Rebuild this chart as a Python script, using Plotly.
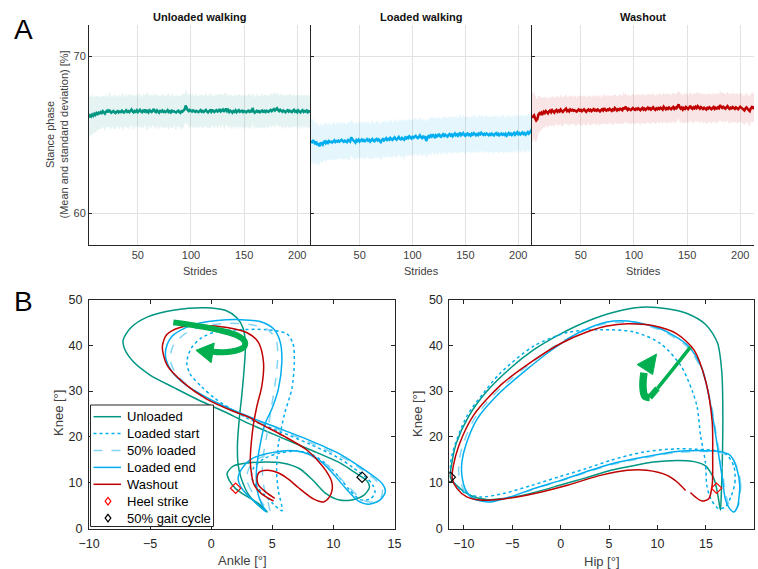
import plotly.graph_objects as go

W, H = 758, 569

# ---------------- Panel A data (stance phase per stride) ----------------
phase_titles = ["Unloaded walking", "Loaded walking", "Washout"]
stride_ticks = [50, 100, 150, 200]
stance_ticks = [60, 70]
first_stride = 4

unloaded_mean = [
    66.12, 66.25, 66.18, 66.30, 66.22, 66.35, 66.28, 66.40, 66.33, 66.42,
    66.38, 66.46, 66.40, 66.52, 66.44, 66.36, 66.48, 66.55, 66.45, 66.60,
    66.50, 66.42, 66.47, 66.53, 66.45, 66.40, 66.48, 66.52, 66.44, 66.50,
    66.46, 66.55, 66.48, 66.43, 66.51, 66.58, 66.47, 66.52, 66.45, 66.55,
    66.62, 66.50, 66.44, 66.53, 66.48, 66.57, 66.46, 66.52, 66.60, 66.49,
    66.45, 66.55, 66.50, 66.62, 66.48, 66.53, 66.44, 66.58, 66.51, 66.47,
    66.55, 66.65, 66.50, 66.45, 66.57, 66.48, 66.42, 66.53, 66.49, 66.56,
    66.47, 66.52, 66.45, 66.50, 66.58, 66.46, 66.51, 66.44, 66.55, 66.49,
    66.52, 66.46, 66.43, 66.50, 66.55, 66.47, 66.41, 66.52, 66.48, 66.56,
    66.62, 66.88, 66.70, 66.58, 66.52, 66.60, 66.55, 66.49, 66.56, 66.51,
    66.47, 66.54, 66.50, 66.45, 66.52, 66.58, 66.48, 66.53, 66.46, 66.55,
    66.60, 66.50, 66.44, 66.52, 66.57, 66.48, 66.62, 66.51, 66.46, 66.55,
    66.58, 66.49, 66.53, 66.65, 66.50, 66.56, 66.62, 66.48, 66.55, 66.68,
    66.52, 66.60, 66.47, 66.55, 66.50, 66.42, 66.53, 66.48, 66.57, 66.45,
    66.52, 66.58, 66.47, 66.50, 66.55, 66.46, 66.53, 66.49, 66.44, 66.52,
    66.56, 66.48, 66.53, 66.45, 66.72, 66.50, 66.42, 66.48, 66.54, 66.47,
    66.52, 66.45, 66.50, 66.56, 66.48, 66.53, 66.46, 66.55, 66.50, 66.47,
    66.55, 66.60, 66.52, 66.58, 66.65, 66.56, 66.62, 66.70, 66.58, 66.52,
    66.60, 66.53, 66.48, 66.56, 66.50, 66.45, 66.53, 66.58, 66.49, 66.55,
    66.50, 66.46, 66.55, 66.60, 66.48, 66.53, 66.45, 66.57, 66.50, 66.44,
    66.52, 66.58, 66.47, 66.53, 66.49, 66.56, 66.45, 66.52, 66.50, 66.46,
]
unloaded_sd = [
    1.35, 1.28, 1.22, 1.30, 1.18, 1.12, 1.20, 1.08, 1.15, 1.05,
    0.98, 1.10, 1.02, 0.95, 1.08, 1.12, 0.96, 1.04, 0.92, 1.10,
    1.18, 1.02, 0.94, 1.06, 1.12, 0.98, 1.05, 0.90, 1.14, 1.00,
    0.96, 1.08, 1.20, 1.02, 0.94, 1.10, 0.98, 1.04, 1.16, 0.92,
    1.06, 1.00, 1.12, 0.95, 1.08, 1.02, 0.90, 1.14, 1.00, 1.06,
    0.96, 1.10, 1.04, 0.92, 1.18, 1.25, 1.06, 0.98, 1.12, 1.02,
    0.94, 1.08, 1.00, 1.15, 0.96, 1.04, 1.10, 0.92, 1.06, 1.00,
    1.12, 0.98, 1.04, 0.94, 1.08, 1.16, 1.00, 0.96, 1.10, 1.02,
    0.92, 1.06, 1.12, 0.98, 1.04, 0.95, 1.10, 1.00, 1.18, 1.06,
    0.96, 1.08, 1.02, 0.94, 1.12, 1.00, 1.06, 0.98, 1.14, 0.92,
    1.04, 1.10, 0.96, 1.02, 1.08, 0.94, 1.12, 1.00, 1.05, 0.97,
    1.10, 1.03, 0.95, 1.08, 1.14, 0.99, 1.04, 0.92, 1.07, 1.01,
    0.96, 1.12, 1.05, 0.98, 1.09, 1.02, 0.94, 1.06, 1.15, 1.00,
    0.95, 1.08, 1.03, 0.97, 1.11, 1.04, 0.93, 1.06, 1.00, 1.10,
    0.98, 1.05, 1.13, 0.96, 1.02, 1.08, 0.94, 1.10, 1.01, 0.97,
    1.06, 1.12, 0.99, 1.04, 0.93, 1.08, 1.02, 0.96, 1.11, 1.05,
    0.98, 1.07, 1.00, 1.14, 0.95, 1.03, 1.09, 0.97, 1.05, 1.01,
    0.94, 1.10, 1.04, 0.98, 1.06, 1.12, 0.96, 1.02, 1.08, 0.93,
    1.05, 1.00, 1.11, 0.97, 1.04, 1.09, 0.95, 1.02, 1.07, 0.99,
    1.12, 1.03, 0.96, 1.06, 1.01, 0.94, 1.08, 1.04, 0.98, 1.10,
    1.02, 0.95, 1.07, 1.00, 1.05, 0.97, 1.03, 1.09, 0.96, 1.04,
]
loaded_mean = [
    64.62, 64.55, 64.68, 64.50, 64.42, 64.58, 64.35, 64.47, 64.28, 64.52,
    64.45, 64.38, 64.55, 64.60, 64.48, 64.57, 64.50, 64.62, 64.55, 64.58,
    64.52, 64.60, 64.66, 64.55, 64.62, 64.58, 64.65, 64.57, 64.63, 64.70,
    64.62, 64.57, 64.64, 64.60, 64.55, 64.68, 64.62, 64.58, 64.85, 64.72,
    64.65, 64.60, 64.52, 64.68, 64.62, 64.70, 64.58, 64.65, 64.72, 64.62,
    64.68, 64.60, 64.66, 64.73, 64.64, 64.70, 64.58, 64.67, 64.74, 64.65,
    64.60, 64.70, 64.75, 64.66, 64.72, 64.62, 64.55, 64.68, 64.74, 64.65,
    64.72, 64.80, 64.68, 64.75, 64.70, 64.82, 64.74, 64.68, 64.77, 64.85,
    64.75, 64.70, 64.80, 64.88, 64.76, 64.72, 64.82, 64.78, 64.70, 64.84,
    64.78, 64.86, 64.80, 64.92, 64.84, 64.78, 64.88, 64.82, 64.90, 64.95,
    64.85, 64.80, 64.88, 64.98, 64.86, 64.80, 64.90, 64.84, 64.92, 64.62,
    64.80, 64.92, 64.86, 64.97, 64.90, 65.05, 64.92, 64.86, 64.98, 64.90,
    64.95, 65.08, 64.92, 64.88, 64.98, 65.05, 64.94, 65.02, 64.96, 64.90,
    65.00, 65.06, 64.96, 65.03, 64.92, 65.00, 65.10, 64.98, 65.04, 64.95,
    65.02, 65.15, 64.98, 65.06, 65.12, 65.00, 64.94, 65.05, 65.10, 65.00,
    65.04, 64.96, 65.08, 65.02, 65.12, 65.05, 64.98, 65.06, 65.00, 65.10,
    65.04, 65.14, 65.05, 65.00, 65.08, 65.02, 65.10, 65.05, 64.98, 65.06,
    65.00, 65.09, 65.04, 64.97, 65.06, 65.12, 65.02, 65.08, 64.98, 65.05,
    65.10, 65.02, 65.07, 65.00, 65.08, 64.95, 65.05, 65.12, 65.03, 65.09,
    65.00, 65.06, 65.14, 65.02, 65.08, 65.18, 65.05, 65.12, 65.04, 65.10,
    65.16, 65.06, 65.12, 65.02, 65.10, 65.18, 65.08, 65.15, 65.25, 65.38,
]
loaded_sd = [
    1.45, 1.38, 1.42, 1.30, 1.35, 1.26, 1.32, 1.22, 1.28, 1.18,
    1.24, 1.15, 1.20, 1.12, 1.26, 1.18, 1.10, 1.22, 1.14, 1.08,
    1.20, 1.16, 1.25, 1.10, 1.18, 1.12, 1.22, 1.06, 1.15, 1.20,
    1.10, 1.24, 1.14, 1.08, 1.18, 1.12, 1.26, 1.16, 1.10, 1.20,
    1.14, 1.08, 1.22, 1.16, 1.12, 1.18, 1.06, 1.20, 1.14, 1.10,
    1.24, 1.12, 1.16, 1.08, 1.20, 1.14, 1.10, 1.18, 1.28, 1.12,
    1.16, 1.06, 1.20, 1.12, 1.18, 1.10, 1.14, 1.22, 1.08, 1.16,
    1.12, 1.20, 1.06, 1.14, 1.18, 1.10, 1.24, 1.12, 1.08, 1.16,
    1.20, 1.14, 1.10, 1.18, 1.06, 1.22, 1.12, 1.16, 1.30, 1.14,
    1.08, 1.18, 1.12, 1.22, 1.10, 1.16, 1.06, 1.20, 1.14, 1.12,
    1.18, 1.08, 1.24, 1.14, 1.10, 1.20, 1.12, 1.16, 1.06, 1.22,
    1.14, 1.10, 1.18, 1.12, 1.26, 1.08, 1.16, 1.20, 1.10, 1.14,
    1.22, 1.12, 1.08, 1.18, 1.14, 1.10, 1.20, 1.16, 1.06, 1.24,
    1.12, 1.18, 1.10, 1.14, 1.22, 1.08, 1.16, 1.12, 1.20, 1.10,
    1.14, 1.26, 1.12, 1.08, 1.18, 1.14, 1.22, 1.10, 1.16, 1.12,
    1.06, 1.20, 1.14, 1.18, 1.10, 1.24, 1.12, 1.08, 1.16, 1.20,
    1.12, 1.10, 1.18, 1.14, 1.06, 1.22, 1.16, 1.12, 1.20, 1.08,
    1.14, 1.18, 1.10, 1.24, 1.12, 1.16, 1.08, 1.20, 1.14, 1.10,
    1.18, 1.12, 1.26, 1.10, 1.16, 1.08, 1.22, 1.14, 1.12, 1.18,
    1.10, 1.20, 1.14, 1.08, 1.24, 1.12, 1.16, 1.10, 1.20, 1.14,
    1.12, 1.18, 1.08, 1.22, 1.14, 1.10, 1.26, 1.16, 1.20, 1.30,
]
washout_mean = [
    66.10, 66.18, 66.25, 66.05, 65.92, 66.00, 66.30, 66.38, 66.28, 66.42,
    66.35, 66.48, 66.40, 66.52, 66.44, 66.38, 66.50, 66.55, 66.45, 66.58,
    66.50, 66.42, 66.54, 66.60, 66.48, 66.56, 66.50, 66.62, 66.53, 66.47,
    66.55, 66.60, 66.68, 66.52, 66.58, 66.50, 66.62, 66.56, 66.60, 66.54,
    66.58, 66.52, 66.48, 66.56, 66.62, 66.55, 66.60, 66.52, 66.58, 66.64,
    66.55, 66.48, 66.57, 66.62, 66.54, 66.60, 66.52, 66.58, 66.65, 66.56,
    66.60, 66.54, 66.62, 66.57, 66.50, 66.58, 66.64, 66.56, 66.70, 66.60,
    66.55, 66.62, 66.58, 66.66, 66.60, 66.54, 66.63, 66.58, 66.72, 66.62,
    66.56, 66.64, 66.60, 66.68, 66.62, 66.58, 66.75, 66.63, 66.80, 66.66,
    66.60, 66.68, 66.62, 66.58, 66.66, 66.72, 66.64, 66.60, 66.68, 66.63,
    66.70, 66.64, 66.58, 66.66, 66.72, 66.62, 66.68, 66.60, 66.66, 66.74,
    66.65, 66.70, 66.62, 66.68, 66.76, 66.66, 66.60, 66.70, 66.64, 66.72,
    66.66, 66.74, 66.68, 66.62, 66.80, 66.70, 66.64, 66.72, 66.66, 66.75,
    66.68, 66.64, 66.72, 66.78, 66.66, 66.74, 66.70, 66.82, 66.95, 66.76,
    66.68, 66.75, 66.62, 66.72, 66.66, 66.78, 66.70, 66.65, 66.74, 66.86,
    66.72, 66.66, 66.76, 66.70, 66.80, 66.72, 66.84, 66.75, 66.68, 66.78,
    66.72, 66.66, 66.74, 66.70, 66.62, 66.73, 66.68, 66.76, 66.70, 66.64,
    66.72, 66.78, 66.66, 66.74, 66.68, 66.75, 66.70, 66.90, 66.78, 66.72,
    66.80, 66.74, 66.68, 66.76, 66.84, 66.72, 66.66, 66.74, 66.70, 66.78,
    66.72, 66.66, 66.76, 66.70, 66.64, 66.72, 66.80, 66.74, 66.68, 66.62,
    66.56, 66.70, 66.76, 66.66, 66.60, 66.52, 66.70, 66.78, 66.72, 66.82,
]
washout_sd = [
    1.60, 1.52, 1.45, 1.50, 1.38, 1.30, 1.22, 1.15, 1.08, 1.02,
    0.98, 0.94, 1.00, 0.90, 0.96, 0.88, 0.94, 0.86, 0.92, 0.98,
    0.88, 0.95, 0.90, 0.84, 0.96, 0.90, 0.86, 0.94, 1.00, 0.88,
    0.92, 0.86, 0.95, 0.90, 0.84, 0.98, 0.92, 0.88, 0.94, 0.86,
    0.90, 0.96, 0.88, 0.92, 0.85, 0.94, 0.90, 0.98, 0.86, 0.92,
    0.88, 0.95, 0.90, 0.84, 0.92, 0.96, 0.88, 0.90, 0.94, 0.86,
    0.92, 0.98, 0.88, 0.94, 0.90, 0.85, 0.93, 0.89, 0.96, 0.87,
    0.91, 0.95, 0.88, 0.92, 0.86, 0.94, 0.90, 0.97, 0.88, 0.92,
    0.85, 0.94, 0.90, 0.96, 0.88, 0.92, 1.00, 0.90, 0.94, 0.87,
    0.92, 0.89, 0.95, 0.86, 0.93, 0.90, 0.97, 0.88, 0.91, 0.94,
    0.87, 0.92, 0.96, 0.89, 0.93, 0.86, 0.95, 0.90, 0.92, 0.88,
    0.94, 0.90, 0.97, 0.87, 0.92, 0.95, 0.89, 0.93, 0.86, 0.91,
    0.96, 0.90, 0.88, 0.94, 0.92, 0.87, 0.95, 0.90, 0.98, 0.89,
    0.92, 0.86, 0.94, 0.90, 0.96, 0.88, 0.93, 0.91, 0.87, 0.95,
    0.90, 0.94, 0.88, 0.92, 0.97, 0.89, 0.93, 0.86, 0.95, 0.91,
    0.88, 0.94, 0.90, 0.96, 0.87, 0.92, 0.95, 0.89, 0.93, 0.90,
    0.86, 0.94, 0.91, 0.88, 0.96, 0.90, 0.93, 0.87, 0.95, 0.92,
    0.89, 0.94, 0.88, 0.92, 0.96, 0.90, 0.87, 0.94, 0.91, 0.95,
    0.88, 0.93, 0.90, 0.86, 0.94, 0.92, 0.97, 0.89, 0.93, 0.90,
    0.95, 0.88, 0.92, 0.96, 0.90, 0.94, 0.87, 0.93, 0.91, 0.88,
    0.94, 0.90, 0.96, 0.89, 0.93, 0.98, 0.90, 0.94, 0.92, 0.96,
]

# ---------------- Panel B data (angle-angle cycles, from heel strike) ----------------
ankle_ticks = [-10, -5, 0, 5, 10, 15]
hip_ticks = [-10, -5, 0, 5, 10, 15, 20]
knee_ticks = [0, 10, 20, 30, 40, 50]

# (ankle, knee) pairs
unloaded_ankle_knee = [(2.0, 8.7), (1.5, 10.4), (1.3, 12.0), (1.8, 13.6), (3.0, 14.3), (4.5, 14.5), (5.8, 14.3),
    (7.2, 13.1), (8.3, 10.6), (9.4, 7.6), (10.5, 6.2), (11.6, 6.3), (12.5, 7.3), (12.95, 9.0), (12.75, 10.4),
    (12.35, 11.2), (11.5, 12.7), (10.5, 14.4), (8.0, 17.3), (5.6, 20.0), (3.0, 23.0), (1.0, 25.6), (-1.0, 28.0),
    (-3.0, 30.7), (-5.0, 33.5), (-6.4, 36.5), (-7.1, 39.3), (-7.2, 41.2), (-6.6, 43.8), (-5.2, 46.2), (-3.0, 47.7),
    (-0.5, 48.2), (1.2, 47.6), (2.1, 46.0), (2.6, 43.8), (2.8, 40.4), (2.7, 35.0), (2.5, 29.0), (2.3, 24.0),
    (2.15, 18.5), (2.2, 14.0), (2.45, 11.0), (3.1, 7.2), (3.9, 5.0), (4.6, 3.6), (3.9, 5.4), (3.0, 6.9),
    (2.4, 7.9), (2.0, 8.7)]
loaded_start_ankle_knee = [(4.4, 7.2), (3.7, 9.2), (3.3, 11.3), (3.5, 13.4), (4.3, 15.2), (5.5, 16.4), (7.0, 16.9),
    (8.3, 16.1), (9.5, 13.9), (10.5, 11.1), (11.3, 8.5), (12.2, 6.3), (13.0, 6.4), (13.4, 7.8), (13.2, 9.6),
    (12.6, 11.3), (11.6, 13.3), (10.5, 15.3), (8.0, 18.5), (5.6, 21.2), (3.0, 24.0), (1.8, 25.8), (0.3, 28.4),
    (-0.8, 31.0), (-1.7, 33.6), (-2.0, 36.3), (-1.6, 39.5), (-0.8, 41.6), (0.3, 42.9), (2.4, 43.4), (4.6, 43.4),
    (6.2, 42.5), (6.7, 40.3), (6.8, 36.3), (6.6, 30.5), (6.0, 25.0), (5.5, 18.4), (5.35, 12.6), (5.5, 8.2),
    (5.8, 3.9), (5.1, 5.3), (4.4, 7.2)]
half_loaded_ankle_knee = [(4.0, 6.2), (3.3, 8.2), (2.9, 10.8), (3.1, 13.2), (3.9, 15.3), (5.2, 16.5), (6.8, 16.9),
    (8.1, 16.2), (9.3, 14.2), (10.4, 11.4), (11.4, 8.7), (12.4, 6.2), (13.2, 5.8), (13.9, 6.8), (14.0, 8.5),
    (13.6, 10.2), (12.8, 11.9), (11.5, 14.4), (10.3, 16.1), (8.0, 18.9), (5.6, 21.5), (3.0, 24.3), (1.0, 26.6),
    (-0.6, 28.8), (-2.0, 31.4), (-3.0, 34.3), (-3.35, 37.0), (-3.1, 40.0), (-2.0, 42.8), (-0.4, 44.3), (1.5, 44.8),
    (3.3, 44.5), (4.6, 43.5), (5.3, 41.3), (5.45, 38.0), (5.3, 33.0), (4.9, 26.0), (4.5, 19.5), (4.2, 14.8),
    (4.25, 10.0), (4.8, 3.7), (4.4, 4.8), (4.0, 6.2)]
loaded_end_ankle_knee = [(3.0, 7.2), (2.4, 9.2), (2.2, 11.0), (2.5, 13.0), (3.3, 15.2), (4.5, 16.3), (6.2, 17.0),
    (7.6, 16.6), (8.9, 14.8), (10.0, 11.9), (11.0, 8.8), (12.0, 6.1), (12.9, 5.3), (13.8, 6.2), (14.25, 8.0),
    (14.0, 9.8), (13.3, 11.4), (12.0, 13.8), (10.5, 16.3), (8.0, 19.3), (5.6, 21.8), (3.0, 24.5), (1.0, 26.8),
    (-0.5, 28.8), (-2.0, 31.2), (-3.2, 34.2), (-3.7, 37.0), (-3.7, 39.3), (-3.2, 42.0), (-1.7, 44.3), (0.5, 45.4),
    (2.4, 45.6), (4.0, 45.2), (5.1, 43.6), (5.65, 40.7), (5.78, 36.3), (5.5, 30.5), (4.96, 26.1), (4.4, 22.8),
    (3.95, 17.5), (3.7, 12.5), (3.75, 8.5), (4.1, 5.5), (4.5, 3.6), (3.7, 5.5), (3.0, 7.2)]
washout_ankle_knee = [(5.2, 6.6), (4.5, 7.9), (3.85, 9.6), (3.75, 11.0), (3.9, 12.2), (4.55, 12.7), (5.6, 12.0),
    (6.4, 10.6), (7.1, 9.0), (8.4, 6.4), (9.2, 5.8), (9.65, 6.8), (9.9, 8.5), (9.85, 10.3), (9.4, 12.6),
    (8.8, 14.6), (7.8, 17.2), (6.0, 20.1), (4.0, 22.9), (3.0, 24.4), (1.8, 25.6), (-0.4, 28.3), (-2.3, 31.9),
    (-3.6, 35.6), (-4.0, 39.6), (-3.65, 42.3), (-2.55, 43.9), (-0.9, 44.3), (1.3, 43.9), (2.9, 42.8),
    (3.85, 40.7), (4.28, 36.3), (4.15, 31.2), (3.75, 26.8), (3.46, 22.8), (3.27, 18.4), (3.2, 14.8),
    (3.3, 11.9), (3.5, 9.6), (4.1, 7.6), (5.1, 6.0)]

# (hip, knee) pairs
unloaded_hip_knee = [(16.1, 8.8), (15.9, 10.5), (15.6, 11.8), (15.0, 13.6), (13.8, 14.6), (12.0, 14.85),
    (9.6, 14.5), (7.2, 13.6), (5.2, 12.7), (2.5, 11.0), (0.0, 9.5), (-2.5, 8.0), (-4.8, 6.9), (-7.5, 6.3),
    (-9.3, 7.2), (-10.7, 9.3), (-11.4, 11.2), (-11.3, 13.5), (-10.8, 18.5), (-9.5, 24.5), (-7.6, 30.0),
    (-5.2, 35.0), (-2.8, 39.0), (0.0, 42.5), (2.7, 45.2), (5.5, 47.2), (8.3, 48.3), (11.0, 48.0), (13.0, 47.0),
    (15.0, 44.5), (16.2, 40.5), (16.65, 34.0), (16.75, 25.0), (16.7, 15.0), (16.6, 8.0), (16.5, 4.0),
    (16.3, 6.5), (16.1, 8.8)]
loaded_start_hip_knee = [(17.6, 7.0), (18.0, 10.0), (17.9, 13.5), (17.2, 16.0), (16.0, 17.0), (14.0, 17.3),
    (12.0, 17.4), (8.6, 16.7), (5.2, 14.9), (2.5, 13.0), (0.0, 11.4), (-3.0, 9.4), (-6.0, 7.6), (-8.3, 6.9),
    (-10.0, 7.9), (-11.0, 10.0), (-11.4, 13.0), (-11.1, 17.0), (-9.7, 24.5), (-8.0, 29.5), (-6.2, 34.0),
    (-2.8, 39.8), (0.7, 42.8), (4.1, 43.4), (7.6, 42.9), (10.3, 40.4), (12.4, 35.6), (13.6, 30.0), (14.1, 26.5),
    (14.45, 20.3), (14.95, 14.5), (15.1, 9.4), (15.5, 6.5), (16.3, 4.35), (17.0, 4.7), (17.6, 7.0)]
half_loaded_hip_knee = [(18.5, 7.0), (18.6, 9.6), (18.3, 13.0), (17.6, 15.8), (16.5, 16.6), (14.8, 16.8),
    (12.0, 16.6), (8.6, 15.4), (5.2, 13.9), (2.5, 12.1), (0.0, 10.4), (-2.8, 8.6), (-5.2, 6.9), (-7.3, 6.0),
    (-9.1, 6.6), (-10.0, 8.5), (-10.5, 11.5), (-10.5, 14.5), (-10.1, 18.3), (-8.9, 24.0), (-6.9, 29.2),
    (-4.1, 34.4), (-1.0, 39.3), (1.8, 42.7), (4.6, 44.7), (6.9, 45.0), (10.2, 43.4), (13.0, 39.8), (14.6, 34.5),
    (15.6, 26.5), (16.1, 20.2), (16.5, 15.0), (16.8, 11.0), (17.1, 7.0), (17.5, 4.8), (18.0, 4.0), (18.4, 5.3),
    (18.5, 7.0)]
loaded_end_hip_knee = [(18.4, 6.5), (18.5, 9.4), (18.2, 13.0), (17.55, 15.9), (16.5, 16.8), (14.8, 17.0),
    (12.0, 16.8), (8.6, 15.6), (5.2, 14.1), (2.5, 12.3), (0.0, 10.5), (-2.8, 8.7), (-5.2, 6.9), (-7.3, 5.8),
    (-9.0, 6.5), (-9.8, 8.4), (-10.2, 11.6), (-10.2, 14.5), (-9.8, 18.2), (-8.6, 24.0), (-6.6, 29.0),
    (-3.8, 34.2), (-0.7, 39.3), (2.0, 42.9), (4.8, 45.1), (6.9, 45.3), (10.3, 43.6), (13.1, 40.0), (14.6, 34.9),
    (15.5, 26.9), (16.0, 20.5), (16.4, 15.0), (16.7, 11.0), (17.0, 6.5), (17.4, 4.5), (17.9, 3.6), (18.3, 5.0),
    (18.4, 6.5)]
washout_hip_knee = [(12.9, 8.3), (12.0, 10.2), (11.0, 11.6), (8.9, 12.7), (6.9, 12.7), (4.1, 11.6), (0.7, 9.45),
    (-2.8, 7.6), (-6.2, 6.4), (-8.3, 6.2), (-9.7, 6.9), (-10.7, 8.7), (-11.2, 10.9), (-11.1, 13.5),
    (-10.5, 18.2), (-9.0, 24.7), (-6.2, 31.3), (-2.8, 36.7), (0.0, 40.4), (2.7, 42.9), (4.8, 44.2), (6.9, 44.7),
    (9.5, 44.3), (12.0, 42.5), (13.8, 38.9), (15.0, 32.0), (15.65, 23.3), (15.7, 16.0), (15.65, 9.45),
    (15.3, 6.5), (14.6, 6.0), (13.9, 6.9), (13.4, 7.85)]

# event markers (unloaded condition)
heel_strike = {"ankle": [2.0], "hip": [16.1], "knee": [8.8]}
mid_cycle = {"ankle": [12.35], "hip": [-11.4], "knee": [11.2]}

# green direction arrows (decoration)
arrow_ankle_body = [(-3.1, 45.0), (-1.5, 44.4), (0.0, 43.7), (1.4, 42.8), (2.3, 41.9), (2.75, 40.8),
                    (2.7, 39.7), (2.1, 38.9), (1.0, 38.5), (0.1, 38.6)]
arrow_ankle_head = [(-1.25, 38.9), (0.25, 40.5), (0.0, 36.2), (-1.25, 38.9)]
arrow_hip_body = [(13.4, 39.6), (11.6, 34.8), (10.0, 30.6), (9.2, 28.6), (8.7, 28.9), (8.5, 31.0), (8.6, 34.0)]
arrow_hip_head = [(9.9, 38.1), (7.9, 35.8), (9.5, 33.6), (9.9, 38.1)]

# ---------------- styles ----------------
TEAL = "#009682"
BLUE = "#00AEEF"
LBLUE = "#84D5F5"
RED = "#C00000"
GREEN = "#00B050"
AX = "#262626"
FONT = "Liberation Sans, Arial, sans-serif"

conditions = [
    ("Unloaded", unloaded_ankle_knee, unloaded_hip_knee, TEAL, "solid"),
    ("Loaded start", loaded_start_ankle_knee, loaded_start_hip_knee, BLUE, "dot"),
    ("50% loaded", half_loaded_ankle_knee, half_loaded_hip_knee, LBLUE, "dash"),
    ("Loaded end", loaded_end_ankle_knee, loaded_end_hip_knee, BLUE, "solid"),
    ("Washout", washout_ankle_knee, washout_hip_knee, RED, "solid"),
]


def px_x(p):
    return p / W


def px_y(p):
    return 1 - p / H


fig = go.Figure()

# ---- Panel A traces ----
series = [
    (unloaded_mean, unloaded_sd, TEAL, "rgba(0,150,130,0.10)"),
    (loaded_mean, loaded_sd, BLUE, "rgba(0,174,239,0.10)"),
    (washout_mean, washout_sd, RED, "rgba(192,0,0,0.10)"),
]
for i, (mean, sd, col, band) in enumerate(series):
    sfx = "" if i == 0 else str(i + 1)
    strides = list(range(first_stride, first_stride + len(mean)))
    upper = [m + s for m, s in zip(mean, sd)]
    lower = [m - s for m, s in zip(mean, sd)]
    fig.add_trace(go.Scatter(x=strides + strides[::-1], y=upper + lower[::-1], fill="toself",
                             fillcolor=band, line=dict(width=0), mode="lines", hoverinfo="skip",
                             showlegend=False, xaxis="x" + sfx, yaxis="y" + sfx))
    fig.add_trace(go.Scatter(x=strides, y=mean, mode="lines", line=dict(color=col, width=2.5),
                             showlegend=False, xaxis="x" + sfx, yaxis="y" + sfx))

# ---- Panel B traces ----
for name, ak, hk, col, dash in conditions:
    fig.add_trace(go.Scatter(x=[p[0] for p in ak], y=[p[1] for p in ak], mode="lines", name=name,
                             line=dict(color=col, width=1.5, dash=dash, shape="spline", smoothing=0.8),
                             showlegend=False, xaxis="x4", yaxis="y4"))
for name, ak, hk, col, dash in conditions:
    fig.add_trace(go.Scatter(x=[p[0] for p in hk], y=[p[1] for p in hk], mode="lines", name=name,
                             line=dict(color=col, width=1.5, dash=dash, shape="spline", smoothing=0.8),
                             showlegend=False, xaxis="x5", yaxis="y5"))

for key, xa, ya in (("ankle", "x4", "y4"), ("hip", "x5", "y5")):
    fig.add_trace(go.Scatter(x=heel_strike[key], y=heel_strike["knee"], mode="markers", name="Heel strike",
                             marker=dict(symbol="diamond-open", size=8, color="#FF0000", line=dict(width=1.2)),
                             showlegend=False, xaxis=xa, yaxis=ya))
    fig.add_trace(go.Scatter(x=mid_cycle[key], y=mid_cycle["knee"], mode="markers", name="50% gait cycle",
                             marker=dict(symbol="diamond-open", size=8, color="#000000", line=dict(width=1.2)),
                             showlegend=False, xaxis=xa, yaxis=ya))

# arrows
fig.add_trace(go.Scatter(x=[p[0] for p in arrow_ankle_body], y=[p[1] for p in arrow_ankle_body], mode="lines",
                         line=dict(color=GREEN, width=6, shape="spline"), hoverinfo="skip", showlegend=False,
                         xaxis="x4", yaxis="y4"))
fig.add_trace(go.Scatter(x=[p[0] for p in arrow_ankle_head], y=[p[1] for p in arrow_ankle_head], mode="lines",
                         fill="toself", fillcolor=GREEN, line=dict(color=GREEN, width=1), hoverinfo="skip",
                         showlegend=False, xaxis="x4", yaxis="y4"))
hb = arrow_hip_body
for seg, wdt in ((hb[0:3], 3.5), (hb[2:4], 6), (hb[3:], 7.5)):
    fig.add_trace(go.Scatter(x=[p[0] for p in seg], y=[p[1] for p in seg], mode="lines",
                             line=dict(color=GREEN, width=wdt, shape="spline"), hoverinfo="skip",
                             showlegend=False, xaxis="x5", yaxis="y5"))
fig.add_trace(go.Scatter(x=[p[0] for p in arrow_hip_head], y=[p[1] for p in arrow_hip_head], mode="lines",
                         fill="toself", fillcolor=GREEN, line=dict(color=GREEN, width=1), hoverinfo="skip",
                         showlegend=False, xaxis="x5", yaxis="y5"))

# ---------------- layout ----------------
layout = dict(template="none", width=W, height=H, autosize=False, margin=dict(l=0, r=0, t=0, b=0, pad=0),
              paper_bgcolor="white", plot_bgcolor="rgba(0,0,0,0)",
              font=dict(family=FONT, color=AX), showlegend=False)

top_dom_y = [px_y(245), px_y(25)]
top_dom_x = [[px_x(89), px_x(311)], [px_x(311), px_x(532)], [px_x(532), px_x(754)]]
for i in range(3):
    sfx = "" if i == 0 else str(i + 1)
    layout["xaxis" + sfx] = dict(domain=top_dom_x[i], range=[first_stride, first_stride + len(series[i][0]) - 1],
                                 tickvals=stride_ticks, showgrid=True, gridcolor="#e2e2e2", gridwidth=1,
                                 showline=True, linecolor=AX, linewidth=1, ticks="", zeroline=False,
                                 anchor="y" + sfx, automargin=False, tickfont=dict(size=11, color="#404040"))
    layout["yaxis" + sfx] = dict(domain=top_dom_y, range=[58, 72], tickvals=stance_ticks, showgrid=True,
                                 gridcolor="#e2e2e2", gridwidth=1, showline=True, linecolor=AX, linewidth=1,
                                 ticks="inside", ticklen=3, tickcolor=AX, showticklabels=(i == 0),
                                 zeroline=False, anchor="x" + sfx, automargin=False,
                                 tickfont=dict(size=11, color="#404040"))

bot_dom_y = [px_y(528.5), px_y(299.5)]
common = dict(showgrid=False, zeroline=False, showline=True, linecolor=AX, linewidth=1, mirror="ticks",
              ticks="inside", ticklen=4, tickcolor=AX, automargin=False, tickfont=dict(size=12.5, color=AX))
layout["xaxis4"] = dict(domain=[px_x(89), px_x(394.5)], range=[-10, 15], tickvals=ankle_ticks, anchor="y4",
                        ticklabelstandoff=3, **common)
layout["yaxis4"] = dict(domain=bot_dom_y, range=[0, 50], tickvals=knee_ticks, anchor="x4",
                        ticklabelstandoff=3, **common)
layout["xaxis5"] = dict(domain=[px_x(449.3), px_x(754.3)], range=[-11.5, 20], tickvals=hip_ticks, anchor="y5",
                        ticklabelstandoff=3, **common)
layout["yaxis5"] = dict(domain=bot_dom_y, range=[0, 50], tickvals=knee_ticks, anchor="x5",
                        ticklabelstandoff=3, **common)

annotations = []


def ann(text, x, y, size, **kw):
    d = dict(text=text, x=px_x(x), y=px_y(y), xref="paper", yref="paper", showarrow=False,
             font=dict(size=size, family=FONT, color=kw.pop("color", AX)), xanchor=kw.pop("xanchor", "center"),
             yanchor=kw.pop("yanchor", "middle"))
    d.update(kw)
    annotations.append(d)


ann("A", 23, 30, 28, color="#000000")
ann("B", 23, 301, 28, color="#000000")
for t, cx in zip(phase_titles, [200, 421.5, 643]):
    ann("<b>" + t + "</b>", cx, 17, 11, color="#111111")
    ann("Strides", cx, 271, 11, color="#404040")
ann("Stance phase<br>(Mean and standard deviation) [%]", 56.5, 135, 11, textangle=-90, color="#404040")
ann("Ankle [°]", 242, 560, 13, color="#404040")
ann("Hip [°]", 602, 561, 13, color="#404040")
ann("Knee [°]", 58, 413, 13, textangle=-90, color="#404040")
ann("Knee [°]", 417, 414, 13, textangle=-90, color="#404040")

# manual legend (box, samples, labels)
shapes = []
shapes.append(dict(type="rect", xref="paper", yref="paper", x0=px_x(90.5), x1=px_x(213.5), y0=px_y(526.5),
                   y1=px_y(405), line=dict(color=AX, width=1), fillcolor="white", layer="above"))
legend_rows = [405 + 11.7 + 16.9 * k for k in range(7)]
for (name, ak, hk, col, dash), ry in zip(conditions, legend_rows):
    shapes.append(dict(type="line", xref="paper", yref="paper", x0=px_x(93.5), x1=px_x(121), y0=px_y(ry),
                       y1=px_y(ry), line=dict(color=col, width=1.5, dash=dash), layer="above"))
    ann(name, 125, ry, 13, xanchor="left", color="#000000")
for (name, col), ry in zip([("Heel strike", "#FF0000"), ("50% gait cycle", "#000000")], legend_rows[5:]):
    cx, cy, r = 108, ry, 3.8
    path = "M {} {} L {} {} L {} {} L {} {} Z".format(px_x(cx), px_y(cy - r), px_x(cx + r * 0.75), px_y(cy),
                                                      px_x(cx), px_y(cy + r), px_x(cx - r * 0.75), px_y(cy))
    shapes.append(dict(type="path", xref="paper", yref="paper", path=path, line=dict(color=col, width=1.2),
                       layer="above"))
    ann(name, 125, ry, 13, xanchor="left", color="#000000")

layout["annotations"] = annotations
layout["shapes"] = shapes
fig.update_layout(**layout)

page_fix = ("document.body.style.margin='0px';document.body.style.padding='0px';"
            "document.documentElement.style.overflow='hidden';document.body.style.overflow='hidden';")
fig.write_html("out.html", post_script=page_fix, config={"displayModeBar": False})
